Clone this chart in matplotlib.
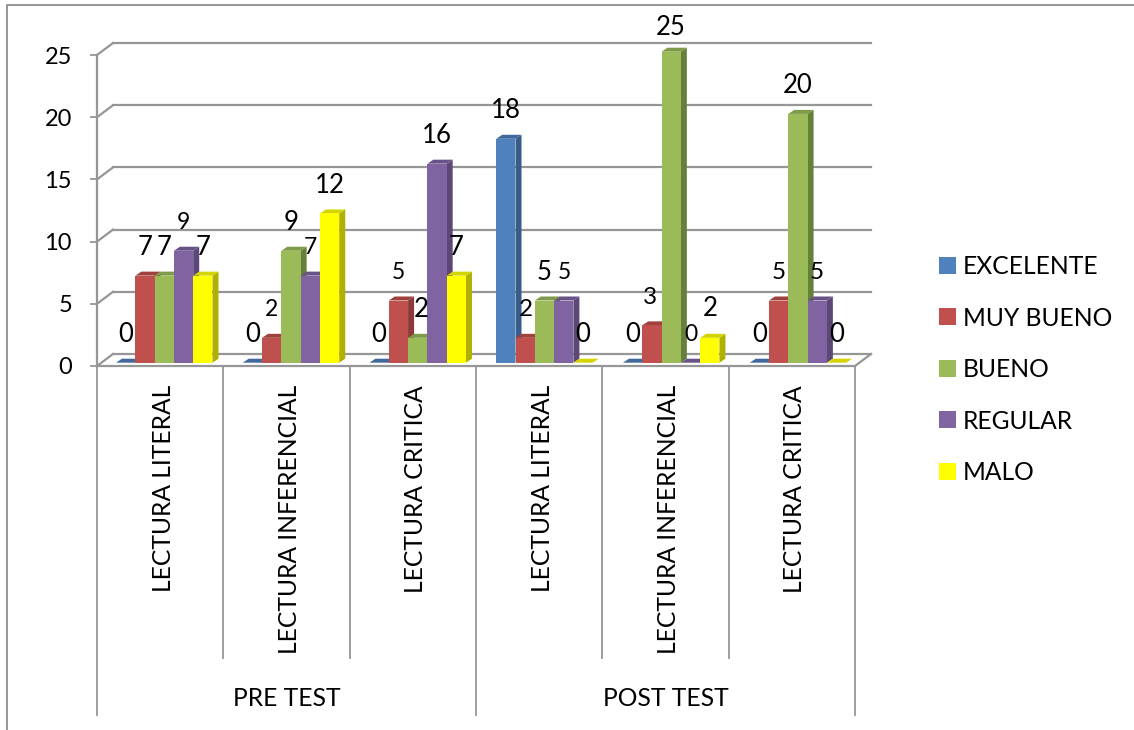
import matplotlib
matplotlib.use("Agg")
import matplotlib.pyplot as plt
from matplotlib.lines import Line2D
from matplotlib.patches import Polygon

plt.rcParams['font.family'] = ['Lato', 'DejaVu Sans']

categories = ["LECTURA LITERAL", "LECTURA INFERENCIAL", "LECTURA CRITICA",
              "LECTURA LITERAL", "LECTURA INFERENCIAL", "LECTURA CRITICA"]
groups = ["PRE TEST", "POST TEST"]
series_names = ["EXCELENTE", "MUY BUENO", "BUENO", "REGULAR", "MALO"]
excelente = [0, 0, 0, 18, 0, 0]
muy_bueno = [7, 2, 5, 2, 3, 5]
bueno = [7, 9, 2, 5, 25, 20]
regular = [9, 7, 16, 5, 0, 5]
malo = [7, 12, 7, 0, 2, 0]
series = [excelente, muy_bueno, bueno, regular, malo]

face = ["#4F81BD", "#C0504D", "#9BBB59", "#8064A2", "#FFFF00"]
top = ["#41699B", "#A0413E", "#7F9A48", "#695285", "#D4D400"]
side = ["#385D8A", "#8C3A38", "#667F3A", "#5C4776", "#B0B000"]
grid_col = "#969696"

W, H = 1134, 730
x0, x1 = 97, 855      # front of the floor, pixels
y0, y25 = 366, 55
px_x = (x1 - x0) / 6  # pixels per category
px_y = (y0 - y25) / 25

fig = plt.figure(figsize=(W / 100, H / 100), dpi=100)
ax = fig.add_axes([x0 / W, (H - y0) / H, (x1 - x0) / W, (y0 - y25) / H])
ax.set_xlim(0, 6)
ax.set_ylim(0, 25)
ax.patch.set_visible(False)
for s in ["top", "right"]:
    ax.spines[s].set_visible(False)
for s in ["left", "bottom"]:
    ax.spines[s].set_color(grid_col)
    ax.spines[s].set_linewidth(1.6)
ax.set_xticks([])
ax.set_yticks(range(0, 30, 5))
ax.tick_params(axis="y", length=5, width=1.3, color=grid_col, pad=13, labelsize=17)

# back wall and left wall
back_dx = 16 / px_x
back_dy = 12 / px_y
for v in range(0, 30, 5):
    ax.plot([0, back_dx], [v, v + back_dy], color=grid_col, lw=1.6, clip_on=False, zorder=1)
    ax.plot([back_dx, 6 + back_dx], [v + back_dy, v + back_dy], color=grid_col, lw=1.6,
            clip_on=False, zorder=1)
ax.plot([6, 6 + back_dx], [0, back_dy], color=grid_col, lw=1.6, clip_on=False, zorder=1)

# bars with a small depth
bar_w = 19.3 / px_x
start = 19 / px_x
drift = 0.4 / px_x  # groups sit a bit wider than the axis divisions
base = 3.3 / px_y
dep_x = 6 / px_x
dep_y = 4 / px_y
handles = []
z = 3
for j, vals in enumerate(series):
    for i, v in enumerate(vals):
        left = i * (1 + drift) + start + j * bar_w
        right = left + bar_w
        b = base + v
        ax.add_patch(Polygon([(right, base), (right + dep_x, base + dep_y),
                              (right + dep_x, b + dep_y), (right, b)],
                             facecolor=side[j], edgecolor="none", clip_on=False, zorder=z))
        ax.add_patch(Polygon([(left, b), (left + dep_x, b + dep_y),
                              (right + dep_x, b + dep_y), (right, b)],
                             facecolor=top[j], edgecolor="none", clip_on=False, zorder=z))
        ax.bar(left, v, bar_w, bottom=base, align="edge", color=face[j], clip_on=False, zorder=z + 0.5)
    z += 1
    handles.append(Polygon([(0, 0)], facecolor=face[j], label=series_names[j]))

# data labels sit above the bar top, sizes differ a little in the original
small = [(0, 3), (1, 1), (1, 3), (2, 1), (3, 3), (4, 3)]
medium = [(3, 1), (4, 1), (5, 1), (5, 3)]
nudge = {(2, 2): (3, 0), (4, 1): (-2, 0), (3, 1): (1, 0), (3, 3): (1, 0), (4, 4): (0, 1), (4, 2): (0, -4)}
for j, vals in enumerate(series):
    for i, v in enumerate(vals):
        cx = i * (1 + drift) + start + (j + 0.5) * bar_w
        dx, dy = nudge.get((i, j), (0, 0))
        size = 18.5
        if (i, j) in small:
            size = 16.5
        elif (i, j) in medium:
            size = 17.5
        ax.annotate(str(v), (cx, base + v), xytext=(dx, 28 + dy), textcoords="offset pixels",
                    ha="center", va="center", fontsize=size, color="black",
                    annotation_clip=False, zorder=20)

# two level category axis under the chart
for i in range(7):
    low = 349 if i % 3 == 0 else 292
    ax.plot([i, i], [0, -low / px_y], color=grid_col, lw=1.3, clip_on=False, zorder=1)
for i, name in enumerate(categories):
    ax.annotate(name, (i + 0.5, 0), xytext=(3, -19), textcoords="offset pixels", rotation=90,
                ha="center", va="top", fontsize=17.7, annotation_clip=False)
for i, name in enumerate(groups):
    ax.annotate(name, (1.5 + 3 * i, 0), xytext=(0, -333), textcoords="offset pixels",
                ha="center", va="center", fontsize=17.7, annotation_clip=False)

fig.legend(handles=handles, loc="upper left", bbox_to_anchor=(939 / W, 1 - 255 / H), frameon=False,
           fontsize=17.7, handlelength=0.69, handleheight=0.69, handletextpad=0.28, labelspacing=1.16,
           borderpad=0, borderaxespad=0)

# chart area border, only left and top are inside the picture
fig.add_artist(Line2D([7 / W, 7 / W, 1], [0, 1 - 5 / H, 1 - 5 / H], transform=fig.transFigure,
                      color="#8C8C8C", lw=1.3))

fig.savefig("out.png", dpi=100)
